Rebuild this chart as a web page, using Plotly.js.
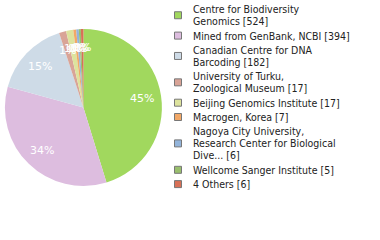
<!DOCTYPE html>
<html><head><meta charset="utf-8">
<script src="https://cdn.plot.ly/plotly-3.0.1.min.js"></script>
<style>html,body{margin:0;padding:0;background:#fff}</style>
</head><body><div id="chart" style="width:380px;height:240px"></div>
<script>
// ---- data ----
const labels = [
  "Centre for Biodiversity|Genomics [524]",
  "Mined from GenBank, NCBI [394]",
  "Canadian Centre for DNA|Barcoding [182]",
  "University of Turku,|Zoological Museum [17]",
  "Beijing Genomics Institute [17]",
  "Macrogen, Korea [7]",
  "Nagoya City University,|Research Center for Biological|Dive... [6]",
  "Wellcome Sanger Institute [5]",
  "4 Others [6]"
];
const values = [524, 394, 182, 17, 17, 7, 6, 5, 6];
const colors = ["#a1d85e", "#ddbddf", "#cedbe7", "#d9a497", "#dde39d", "#f2a867", "#93b4da", "#99bf6d", "#d87056"];

// ---- layout constants ----
const W = 380, H = 240;
const pieDom = {x: [0.013, 0.426], y: [0.225, 0.879]};
const px = v => v / W, py = v => 1 - v / H;

const total = values.reduce((a, b) => a + b, 0);
const pctText = values.map(v => Math.floor(100 * v / total) + "%");

// percentage labels placed along slice bisectors (computed from values)
const cxPx = (pieDom.x[0] + pieDom.x[1]) / 2 * W;
const cyPx = (1 - (pieDom.y[0] + pieDom.y[1]) / 2) * H;
const rPx = Math.min((pieDom.x[1] - pieDom.x[0]) * W, (pieDom.y[1] - pieDom.y[0]) * H) / 2;
const annotations = [];
let cum = 0;
values.forEach((v, i) => {
  const mid = (cum + v / 2) / total * 2 * Math.PI;
  cum += v;
  const rr = rPx * 0.76;
  annotations.push({
    xref: "paper", yref: "paper",
    x: px(cxPx + rr * Math.sin(mid)), y: py(cyPx - rr * Math.cos(mid)),
    text: pctText[i], showarrow: false, xanchor: "center", yanchor: "middle",
    font: {family: "DejaVu Sans", size: 11, color: "#ffffff"}
  });
});

// custom legend (positions computed from line counts)
const shapes = [];
const LINE = 12.1, GAP = 2.2, TOP0 = 5, MX0 = 174, MS = 8, TX = 191;
let y = TOP0;
labels.forEach((lab, i) => {
  const lines = lab.split("|");
  lines.forEach((t, j) => {
    annotations.push({
      xref: "paper", yref: "paper",
      x: px(TX), y: py(y + j * LINE + 4.2),
      text: t, showarrow: false, xanchor: "left", yanchor: "middle",
      font: {family: "DejaVu Sans Condensed, DejaVu Sans", size: 10.5, color: "#222"}
    });
  });
  const c = y + (lines.length - 1) * LINE / 2 + 4.2;
  shapes.push({
    type: "rect", xref: "paper", yref: "paper",
    x0: px(MX0 + 0.5), x1: px(MX0 + MS - 0.5), y0: py(c - MS / 2 + 0.5), y1: py(c + MS / 2 - 0.5),
    fillcolor: colors[i], line: {color: "#777", width: 1}
  });
  y += lines.length * LINE + GAP;
});

Plotly.newPlot("chart", [{
  type: "pie",
  labels: labels,
  values: values,
  sort: false,
  direction: "clockwise",
  rotation: 0,
  marker: {colors: colors, line: {width: 0}},
  textinfo: "none",
  hoverinfo: "none",
  domain: pieDom
}], {
  width: W, height: H,
  margin: {l: 0, r: 0, t: 0, b: 0},
  paper_bgcolor: "#fff",
  showlegend: false,
  annotations: annotations,
  shapes: shapes
}, {displayModeBar: false, staticPlot: true});
</script></body></html>
